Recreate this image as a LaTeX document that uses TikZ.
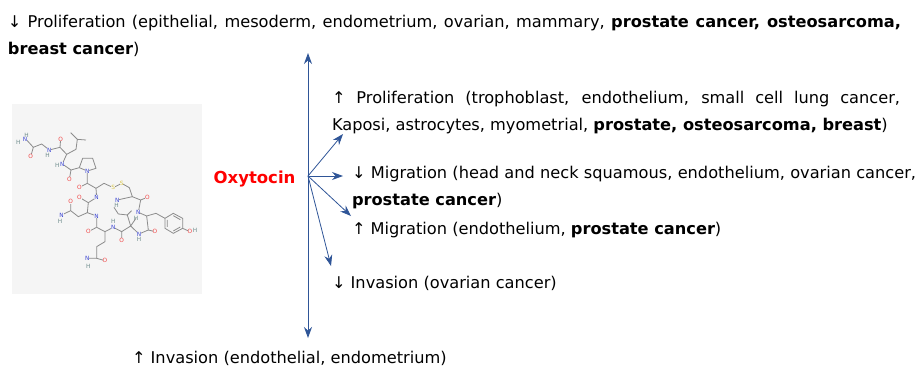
\documentclass[tikz,border=0pt]{standalone}
\usepackage{fontspec}
\usepackage{xcolor}
\usetikzlibrary{arrows.meta, positioning}
\setmainfont{DejaVu Sans}
\definecolor{arrowblue}{RGB}{47,85,151}
\definecolor{molbg}{RGB}{245,245,245}
\definecolor{bondgray}{RGB}{140,140,140}
\definecolor{atomred}{RGB}{240,70,70}
\definecolor{atomblue}{RGB}{60,70,210}
\definecolor{atomhyd}{RGB}{110,140,140}
\definecolor{atomsulfur}{RGB}{215,195,70}

\begin{document}
\begin{tikzpicture}[
        x=1pt, y=-1pt,
        lab/.style={anchor=north west, inner sep=0pt, outer sep=0pt, align=justify, font=\fontsize{16.2}{27}\selectfont},
        hubarr/.style={{Stealth[length=11pt,width=8pt]}-{Stealth[length=11pt,width=8pt]}, arrowblue, line width=0.9pt},
        arr/.style={-{Stealth[length=11pt,width=8pt]}, arrowblue, line width=0.8pt},
        bond/.style={bondgray, line width=0.8pt},
        atom/.style={inner sep=0pt, font=\fontsize{5.8}{6}\selectfont}
    ]
    \useasboundingbox (0,0) rectangle (917,367);

    % molecule picture
    \fill[molbg] (12,104) rectangle (202,294);
    \begin{scope}[shift={(0,90)}, x=0.3333pt, y=-0.3333pt]
        \draw[bond] (80,150) -- (100,172) -- (125,162) -- (148,180) -- (180,172) -- (200,193) -- (187,222) -- (213,240) -- (238,233) -- (262,243) -- (262,280) -- (288,295) -- (312,280) -- (340,293) -- (365,280) -- (388,293) -- (397,320) -- (422,330) -- (415,367) -- (440,378) -- (445,420) -- (417,432) -- (392,408) -- (365,425) -- (340,412) -- (315,425) -- (290,412) -- (290,378) -- (262,368) -- (265,338) -- (290,322) -- (288,295);
        \draw[bond] (100,172) -- (92,200) (180,172) -- (182,147) (200,193) -- (228,178) -- (232,148) -- (212,128) (232,148) -- (258,150);
        \draw[bond] (213,240) -- (208,268) (238,233) -- (248,205) -- (278,205) -- (288,235) -- (262,243);
        \draw[bond] (262,280) -- (238,292) (397,320) -- (352,330) (422,330) -- (442,322) (265,338) -- (238,322);
        \draw[bond] (262,368) -- (235,380) -- (212,362) -- (212,335) (212,362) -- (185,375);
        \draw[bond] (290,412) -- (265,425) (315,425) -- (315,455) -- (290,470) -- (290,505) -- (315,512) (290,505) -- (262,505);
        \draw[bond] (365,425) -- (365,452) (392,408) -- (382,375) -- (395,362) (382,375) -- (355,372) -- (342,352) (392,408) -- (408,385);
        \draw[bond] (445,420) -- (465,425) (440,378) -- (468,370) -- (495,385) -- (495,415) -- (520,430) -- (548,415) -- (548,385) -- (520,370) -- (495,385) (548,415) -- (570,425);
        \draw[bond] (502,390) -- (502,411) (520,423) -- (541,411) (541,389) -- (520,377);
        \foreach \px/\py [count=\i] in {92/200,182/147,208/268,238/292,442/322,238/322,212/335,265/425,315/512,365/452,465/425,570/425}
            \node[atom, text=atomred, fill=molbg] (oxy\i) at (\px,\py) {O};
        \foreach \px/\py [count=\i] in {75/148,148/180,187/222,262/243,290/322,352/330,415/367,290/378,185/375,340/412,417/432,262/505}
            \node[atom, text=atomblue, fill=molbg] (nit\i) at (\px,\py) {N};
        \foreach \px/\py [count=\i] in {55/157,80/135,143/197,172/226,350/345,180/395,340/395,417/447,265/530,408/385,585/420}
            \node[atom, text=atomhyd] (hyd\i) at (\px,\py) {H};
        \foreach \px/\py [count=\i] in {340/293,365/280}
            \node[atom, text=atomsulfur, fill=molbg] (sul\i) at (\px,\py) {S};
    \end{scope}

    \node[inner sep=0pt, text=red, font=\fontsize{16.5}{20}\bfseries\selectfont] (oxytocin) at (254.5,179) {Oxytocin};

    \coordinate (hub) at (308,176);
    \coordinate (top) at (308,53);
    \coordinate (bottom) at (308,338);

    \node[lab, text width=893pt] (prolifdown) at (8,15) {↓ Proliferation (epithelial, mesoderm, endometrium, ovarian, mammary, \textbf{prostate cancer, osteosarcoma,} \linebreak \textbf{breast cancer})};
    \node[lab, text width=568pt] (prolifup) at (332,91) {↑ Proliferation (trophoblast, endothelium, small cell lung cancer, \linebreak Kaposi, astrocytes, myometrial, \textbf{prostate, osteosarcoma, breast})};
    \node[lab, text width=564pt] (migdown) at (352,166) {↓ Migration (head and neck squamous, endothelium, ovarian cancer, \linebreak \textbf{prostate cancer})};
    \node[lab] (migup) at (352,222) {↑ Migration (endothelium, \textbf{prostate cancer})};
    \node[lab] (invdown) at (332,276) {↓ Invasion (ovarian cancer)};
    \node[lab] (invup) at (132,351) {↑ Invasion (endothelial, endometrium)};

    \coordinate (e1) at (343,134);
    \coordinate (e2) at (343,176);
    \coordinate (e3) at (351,216);
    \coordinate (e4) at (331,266);

    \draw[hubarr] (top) -- (bottom);
    \draw[arr] (hub) -- (e1);
    \draw[arr] (hub) -- (e2);
    \draw[arr] (hub) -- (e3);
    \draw[arr] (hub) -- (e4);

\end{tikzpicture}
\end{document}
